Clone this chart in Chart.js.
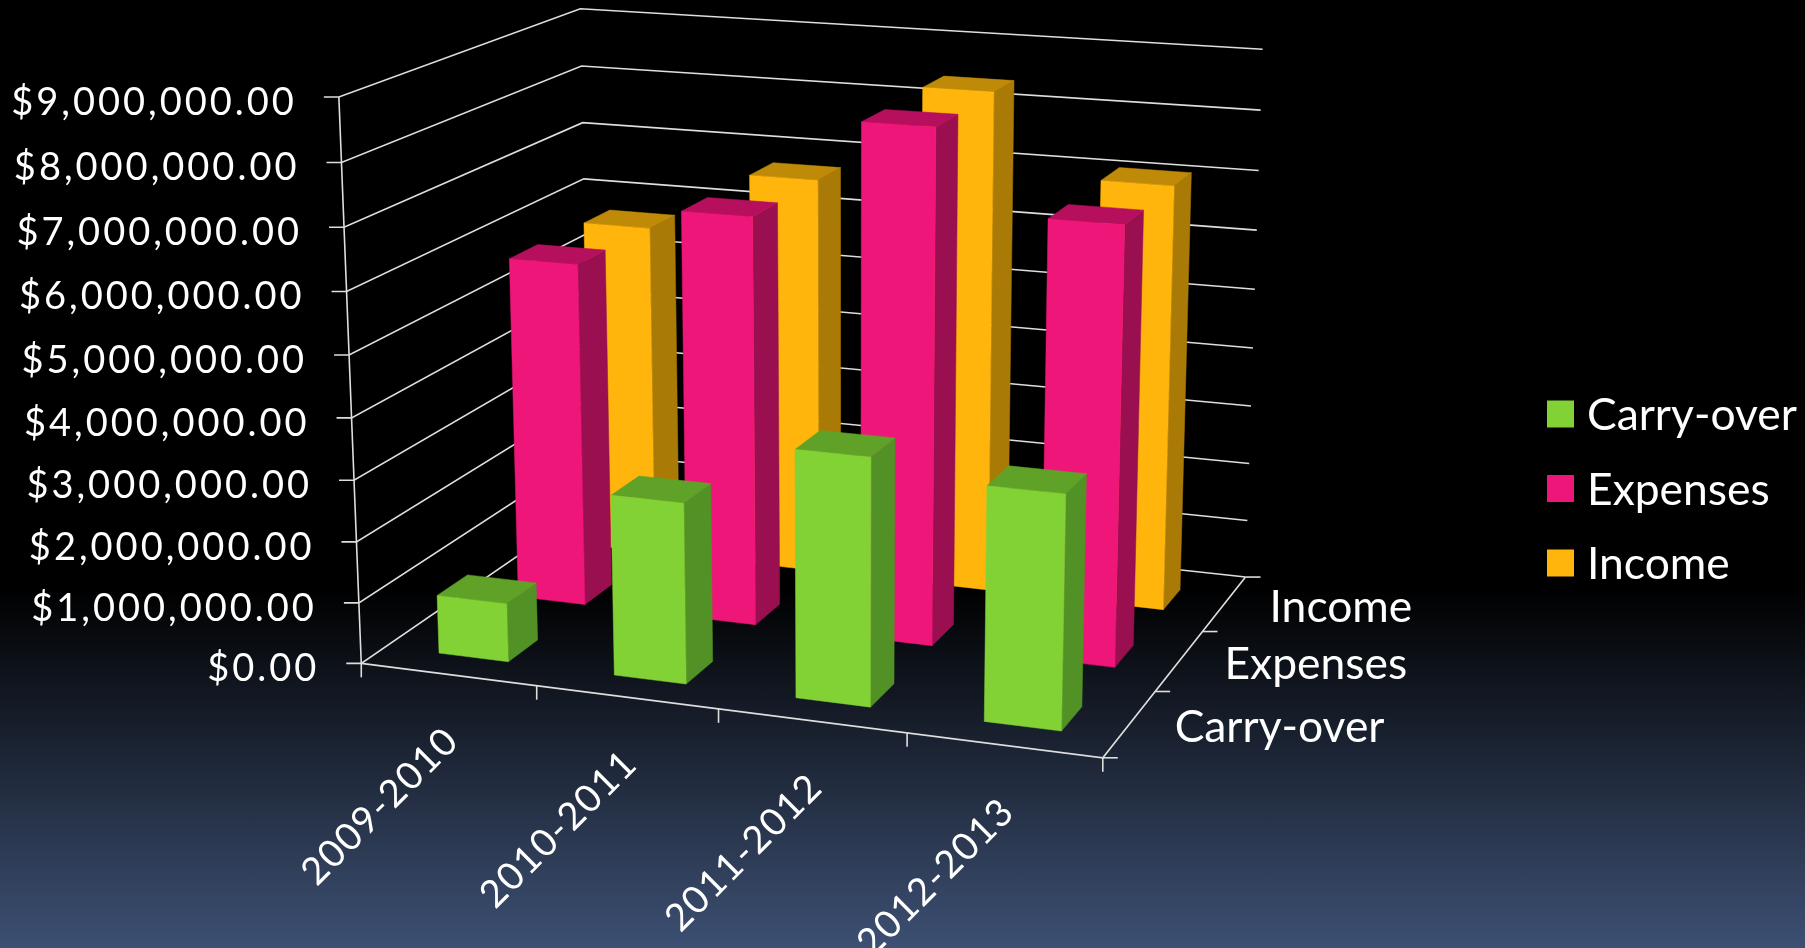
<!DOCTYPE html>
<html>
<head>
<meta charset="utf-8">
<title>Carry-over, Expenses, Income</title>
<script src="https://cdn.jsdelivr.net/npm/chart.js@4/dist/chart.umd.min.js"></script>
<style>
  html, body { margin: 0; padding: 0; width: 1805px; height: 948px; overflow: hidden; }
  body { background: linear-gradient(#000 0, #000 62%, #3d5073 100%); }
  canvas { display: block; }
</style>
</head>
<body>
<canvas id="myChart" width="1805" height="948"></canvas>
<script>
// values
const categories = ['2009-2010', '2010-2011', '2011-2012', '2012-2013'];
const seriesNames = ['Carry-over', 'Expenses', 'Income'];
const carryOver = [960000, 2920000, 3950000, 3690000];
const expenses = [5750000, 6760000, 8390000, 7090000];
const income = [5720000, 6760000, 8420000, 7100000];

const frontColors = ['#82d236', '#ee1679', '#ffb50b'];
const topColors = ['#60a228', '#b60f5e', '#bf8a08'];
const sideColors = ['#529125', '#990f50', '#aa7a07'];

const lineColor = '#dedede';
const smallFont = '38px Lato';
const bigFont = '44.4px Lato';

// corners of the plot box on screen: [u, v, w, x, y], u = along x, v = up, w = into the depth
const boxCorners = [
    [0, 0, 0, 360, 664],
    [0, 1, 0, 340, 97],
    [0, 1, 1, 579, 9],
    [0, 0, 1, 592, 505],
    [1, 1, 1, 1263, 49],
    [1, 0, 1, 1245, 578],
    [1, 0, 0, 1103, 757]
];

// perspective matrix fitted to the corners (least squares)
function fitProjection(points) {
    const n = 11;
    const A = [];
    for (let i = 0; i < n; i++) A.push(new Array(n + 1).fill(0));
    const addRow = (row, rhs) => {
        for (let i = 0; i < n; i++) {
            for (let j = 0; j < n; j++) A[i][j] += row[i] * row[j];
            A[i][n] += row[i] * rhs;
        }
    };
    points.forEach(([u, v, w, x, y]) => {
        addRow([u, v, w, 1, 0, 0, 0, 0, -x * u, -x * v, -x * w], x);
        addRow([0, 0, 0, 0, u, v, w, 1, -y * u, -y * v, -y * w], y);
    });
    for (let c = 0; c < n; c++) {
        let p = c;
        for (let r = c + 1; r < n; r++) if (Math.abs(A[r][c]) > Math.abs(A[p][c])) p = r;
        [A[c], A[p]] = [A[p], A[c]];
        for (let r = 0; r < n; r++) {
            if (r === c) continue;
            const f = A[r][c] / A[c][c];
            for (let k = c; k <= n; k++) A[r][k] -= f * A[c][k];
        }
    }
    return A.map((row, i) => row[n] / row[i]);
}
const P = fitProjection(boxCorners);

function project(u, v, w) {
    const d = P[8] * u + P[9] * v + P[10] * w + 1;
    return [(P[0] * u + P[1] * v + P[2] * w + P[3]) / d, (P[4] * u + P[5] * v + P[6] * w + P[7]) / d];
}

function line(ctx, pts) {
    ctx.beginPath();
    pts.forEach((p, i) => i ? ctx.lineTo(p[0], p[1]) : ctx.moveTo(p[0], p[1]));
    ctx.stroke();
}

function quad(ctx, pts, color) {
    ctx.fillStyle = color;
    ctx.strokeStyle = color;
    ctx.lineWidth = 0.5;
    ctx.beginPath();
    pts.forEach((p, i) => i ? ctx.lineTo(p[0], p[1]) : ctx.moveTo(p[0], p[1]));
    ctx.closePath();
    ctx.fill();
    ctx.stroke();
}

const bars3d = {
    id: 'bars3d',
    // flat bars are not drawn, only the boxes below
    beforeDatasetDraw() { return false; },
    beforeDatasetsDraw(chart) {
        const ctx = chart.ctx;
        const { x: xs, y: ys, z: zs } = chart.scales;
        const toU = px => (px - xs.left) / xs.width;
        const toV = px => (ys.bottom - px) / ys.height;
        const toW = px => (px - zs.left) / zs.width;

        ctx.save();
        ctx.lineCap = 'butt';

        // walls
        ctx.strokeStyle = lineColor;
        ctx.lineWidth = 1.6;
        ys.ticks.forEach(t => {
            const v = toV(ys.getPixelForValue(t.value));
            const a = project(0, v, 0);
            line(ctx, [[a[0] - 15, a[1]], a, project(0, v, 1), project(1, v, 1)]);
            ctx.font = smallFont;
            ctx.letterSpacing = '3px';
            ctx.fillStyle = '#fff';
            ctx.textAlign = 'right';
            ctx.textBaseline = 'alphabetic';
            ctx.fillText(t.label, a[0] - 42, a[1] + 18);
        });
        line(ctx, [project(0, 0, 0), project(0, 1, 0)]);
        line(ctx, [project(0, 0, 0), project(1, 0, 0), project(1, 0, 1)]);

        // x ticks and labels
        categories.forEach((c, i) => {
            for (const k of (i === 0 ? [-0.5, 0.5] : [i + 0.5])) {
                const p = project(toU(xs.getPixelForValue(k)), 0, 0);
                ctx.strokeStyle = lineColor;
                ctx.lineWidth = 1.6;
                line(ctx, [p, [p[0], p[1] + 14]]);
            }
            const m = project(toU(xs.getPixelForValue(i)), 0, 0);
            ctx.save();
            ctx.translate(m[0] + 4, m[1] + 60);
            ctx.rotate(-Math.PI / 4);
            ctx.font = smallFont;
            ctx.letterSpacing = '1.5px';
            ctx.fillStyle = '#fff';
            ctx.textAlign = 'right';
            ctx.textBaseline = 'middle';
            ctx.fillText(c, 0, 0);
            ctx.restore();
        });

        // depth ticks and labels
        seriesNames.forEach((s, i) => {
            for (const k of (i === 0 ? [-0.5, 0.5] : [i + 0.5])) {
                const p = project(1, 0, toW(zs.getPixelForValue(k)));
                ctx.strokeStyle = lineColor;
                ctx.lineWidth = 1.6;
                line(ctx, [p, [p[0] + 15, p[1]]]);
            }
            const m = project(1, 0, toW(zs.getPixelForValue(i)));
            ctx.font = bigFont;
            ctx.letterSpacing = '0px';
            ctx.fillStyle = '#fff';
            ctx.textAlign = 'left';
            ctx.textBaseline = 'middle';
            ctx.fillText(s, m[0] + 45, m[1] + 4);
        });

        // boxes, back row first
        const slot = zs.width / seriesNames.length;
        const halfDepth = 0.37 * slot / 2;
        const nudgeX = 0.01 * xs.width / categories.length;
        for (let d = chart.data.datasets.length - 1; d >= 0; d--) {
            const z = zs.getPixelForValue(d) - 0.03 * slot;
            const wf = toW(z - halfDepth);
            const wb = toW(z + halfDepth);
            chart.getDatasetMeta(d).data.forEach(bar => {
                const l = toU(bar.x - bar.width / 2 + nudgeX);
                const r = toU(bar.x + bar.width / 2 + nudgeX);
                const t = toV(bar.y);
                quad(ctx, [project(r, 0, wf), project(r, 0, wb), project(r, t, wb), project(r, t, wf)], sideColors[d]);
                quad(ctx, [project(l, t, wf), project(r, t, wf), project(r, t, wb), project(l, t, wb)], topColors[d]);
                quad(ctx, [project(l, 0, wf), project(r, 0, wf), project(r, t, wf), project(l, t, wf)], frontColors[d]);
            });
        }

        // legend
        seriesNames.forEach((s, i) => {
            const y = 414 + i * 74.5;
            ctx.fillStyle = frontColors[i];
            ctx.fillRect(1547, y - 13.5, 27, 27);
            ctx.font = bigFont;
            ctx.letterSpacing = '0px';
            ctx.fillStyle = '#fff';
            ctx.textAlign = 'left';
            ctx.textBaseline = 'middle';
            ctx.fillText(s, 1587, y + 2);
        });
        ctx.restore();
    }
};

const data = {
    labels: categories,
    datasets: [
        { label: seriesNames[0], data: carryOver, backgroundColor: frontColors[0] },
        { label: seriesNames[1], data: expenses, backgroundColor: frontColors[1] },
        { label: seriesNames[2], data: income, backgroundColor: frontColors[2] }
    ]
};

const config = {
    type: 'bar',
    data: data,
    plugins: [bars3d],
    options: {
        responsive: false,
        animation: false,
        events: [],
        datasets: { bar: { grouped: false, barPercentage: 0.4, categoryPercentage: 1 } },
        plugins: { legend: { display: false }, tooltip: { enabled: false } },
        scales: {
            x: { display: false },
            z: { type: 'category', axis: 'x', labels: seriesNames, offset: true, display: false },
            y: {
                display: false,
                min: 0,
                max: 9000000,
                ticks: {
                    stepSize: 1000000,
                    callback: v => '$' + v.toLocaleString('en-US', { minimumFractionDigits: 2 })
                }
            }
        }
    }
};

new Chart(document.getElementById('myChart'), config);
</script>
</body>
</html>
